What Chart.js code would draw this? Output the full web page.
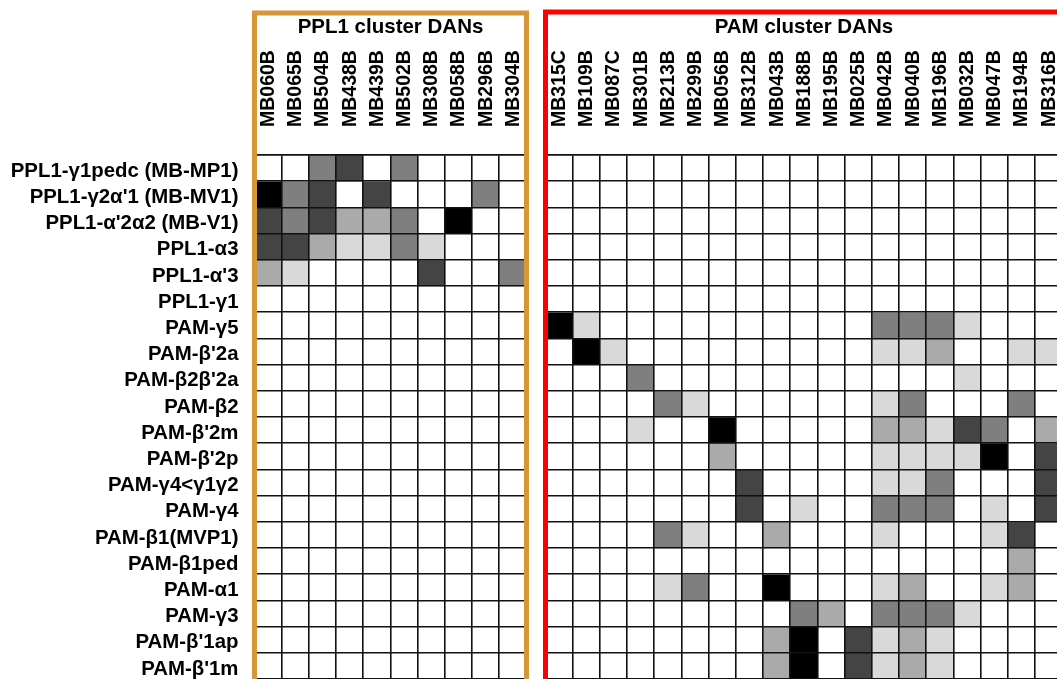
<!DOCTYPE html>
<html>
<head>
<meta charset="utf-8">
<script src="https://cdn.jsdelivr.net/npm/chart.js@4"></script>
<style>
    html, body { margin: 0; padding: 0; background: #fff; overflow: hidden; width: 1057px; height: 679px; }
    .box { position: absolute; top: 0; height: 682px; width: 530px; }
    #pplBox { left: 0; }
    #pamBox { left: 540px; }
</style>
</head>
<body>
<div class="box" id="pplBox"><canvas id="pplChart"></canvas></div>
<div class="box" id="pamBox"><canvas id="pamChart"></canvas></div>
<script>
// 行（神经元类型）
const rowNames = [
    'PPL1-γ1pedc (MB-MP1)', "PPL1-γ2α'1 (MB-MV1)", "PPL1-α'2α2 (MB-V1)", 'PPL1-α3', "PPL1-α'3",
    'PPL1-γ1', 'PAM-γ5', "PAM-β'2a", "PAM-β2β'2a", 'PAM-β2',
    "PAM-β'2m", "PAM-β'2p", 'PAM-γ4<γ1γ2', 'PAM-γ4', 'PAM-β1(MVP1)',
    'PAM-β1ped', 'PAM-α1', 'PAM-γ3', "PAM-β'1ap", "PAM-β'1m"
];

// 列（split-GAL4 品系）
const pplLines = ['MB060B', 'MB065B', 'MB504B', 'MB438B', 'MB439B', 'MB502B', 'MB308B', 'MB058B', 'MB296B', 'MB304B'];
const pamLines = ['MB315C', 'MB109B', 'MB087C', 'MB301B', 'MB213B', 'MB299B', 'MB056B', 'MB312B', 'MB043B', 'MB188B',
    'MB195B', 'MB025B', 'MB042B', 'MB040B', 'MB196B', 'MB032B', 'MB047B', 'MB194B', 'MB316B'];

// 表达强度 0-5（0 = 无, 5 = 最强）
const pplLevels = [
    [0, 0, 3, 4, 0, 3, 0, 0, 0, 0],
    [5, 3, 4, 0, 4, 0, 0, 0, 3, 0],
    [4, 3, 4, 2, 2, 3, 0, 5, 0, 0],
    [4, 4, 2, 1, 1, 3, 1, 0, 0, 0],
    [2, 1, 0, 0, 0, 0, 4, 0, 0, 3],
    [0, 0, 0, 0, 0, 0, 0, 0, 0, 0],
    [0, 0, 0, 0, 0, 0, 0, 0, 0, 0],
    [0, 0, 0, 0, 0, 0, 0, 0, 0, 0],
    [0, 0, 0, 0, 0, 0, 0, 0, 0, 0],
    [0, 0, 0, 0, 0, 0, 0, 0, 0, 0],
    [0, 0, 0, 0, 0, 0, 0, 0, 0, 0],
    [0, 0, 0, 0, 0, 0, 0, 0, 0, 0],
    [0, 0, 0, 0, 0, 0, 0, 0, 0, 0],
    [0, 0, 0, 0, 0, 0, 0, 0, 0, 0],
    [0, 0, 0, 0, 0, 0, 0, 0, 0, 0],
    [0, 0, 0, 0, 0, 0, 0, 0, 0, 0],
    [0, 0, 0, 0, 0, 0, 0, 0, 0, 0],
    [0, 0, 0, 0, 0, 0, 0, 0, 0, 0],
    [0, 0, 0, 0, 0, 0, 0, 0, 0, 0],
    [0, 0, 0, 0, 0, 0, 0, 0, 0, 0]
];

const pamLevels = [
    [0, 0, 0, 0, 0, 0, 0, 0, 0, 0, 0, 0, 0, 0, 0, 0, 0, 0, 0],
    [0, 0, 0, 0, 0, 0, 0, 0, 0, 0, 0, 0, 0, 0, 0, 0, 0, 0, 0],
    [0, 0, 0, 0, 0, 0, 0, 0, 0, 0, 0, 0, 0, 0, 0, 0, 0, 0, 0],
    [0, 0, 0, 0, 0, 0, 0, 0, 0, 0, 0, 0, 0, 0, 0, 0, 0, 0, 0],
    [0, 0, 0, 0, 0, 0, 0, 0, 0, 0, 0, 0, 0, 0, 0, 0, 0, 0, 0],
    [0, 0, 0, 0, 0, 0, 0, 0, 0, 0, 0, 0, 0, 0, 0, 0, 0, 0, 0],
    [5, 1, 0, 0, 0, 0, 0, 0, 0, 0, 0, 0, 3, 3, 3, 1, 0, 0, 0],
    [0, 5, 1, 0, 0, 0, 0, 0, 0, 0, 0, 0, 1, 1, 2, 0, 0, 1, 1],
    [0, 0, 0, 3, 0, 0, 0, 0, 0, 0, 0, 0, 0, 0, 0, 1, 0, 0, 0],
    [0, 0, 0, 0, 3, 1, 0, 0, 0, 0, 0, 0, 1, 3, 0, 0, 0, 3, 0],
    [0, 0, 0, 1, 0, 0, 5, 0, 0, 0, 0, 0, 2, 2, 1, 4, 3, 0, 2],
    [0, 0, 0, 0, 0, 0, 2, 0, 0, 0, 0, 0, 1, 1, 1, 1, 5, 0, 4],
    [0, 0, 0, 0, 0, 0, 0, 4, 0, 0, 0, 0, 1, 1, 3, 0, 0, 0, 4],
    [0, 0, 0, 0, 0, 0, 0, 4, 0, 1, 0, 0, 3, 3, 3, 0, 1, 0, 4],
    [0, 0, 0, 0, 3, 1, 0, 0, 2, 0, 0, 0, 1, 0, 0, 0, 1, 4, 0],
    [0, 0, 0, 0, 0, 0, 0, 0, 0, 0, 0, 0, 0, 0, 0, 0, 0, 2, 0],
    [0, 0, 0, 0, 1, 3, 0, 0, 5, 0, 0, 0, 1, 2, 0, 0, 1, 2, 0],
    [0, 0, 0, 0, 0, 0, 0, 0, 0, 3, 2, 0, 3, 3, 3, 1, 0, 0, 0],
    [0, 0, 0, 0, 0, 0, 0, 0, 2, 5, 0, 4, 1, 2, 1, 0, 0, 0, 0],
    [0, 0, 0, 0, 0, 0, 0, 0, 2, 5, 0, 4, 1, 2, 1, 0, 0, 0, 0]
];

const shades = ['#ffffff', '#d9d9d9', '#aaaaaa', '#7f7f7f', '#444444', '#000000'];
const FONT = "'Liberation Sans', Arial, sans-serif";
const lineColor = '#111';

// 外框
const boxPlugin = {
    id: 'clusterBox',
    afterDraw(chart, args, opts) {
        const { ctx, chartArea } = chart;
        ctx.save();
        ctx.strokeStyle = opts.color;
        ctx.lineWidth = 5;
        ctx.strokeRect(chartArea.left, opts.top, chartArea.right - chartArea.left, chart.height + 50);
        ctx.restore();
    }
};

function makeHeatmap(canvasId, lines, levels, title, boxColor, boxTop, showRows, padding) {
    return new Chart(document.getElementById(canvasId), {
        type: 'bar',
        data: {
            labels: lines,
            datasets: levels.map((row, i) => ({
                label: rowNames[i],
                data: row.map(() => 1),
                backgroundColor: row.map(v => shades[v]),
                borderWidth: 0,
                barPercentage: 1,
                categoryPercentage: 1,
                yAxisID: 'y'
            }))
        },
        options: {
            responsive: true,
            maintainAspectRatio: false,
            animation: false,
            layout: { padding: padding },
            plugins: {
                legend: { display: false },
                tooltip: { enabled: false },
                clusterBox: { color: boxColor, top: boxTop }
            },
            scales: {
                x: {
                    position: 'top',
                    stacked: true,
                    offset: true,
                    grid: { offset: true, drawTicks: false, color: lineColor, lineWidth: 1.6, z: 1 },
                    border: { color: lineColor, width: 1.6, z: 1 },
                    ticks: {
                        autoSkip: false, minRotation: 90, maxRotation: 90, padding: 28, labelOffset: 24,
                        color: '#000', font: { family: FONT, size: 19.5, weight: 'bold' }
                    },
                    title: {
                        display: true, text: title, color: '#000',
                        padding: { top: 14.7, bottom: 0 },
                        font: { family: FONT, size: 20.5, weight: 'bold' }
                    },
                    afterFit: s => {
                        s.height = 155 - padding.top;
                        s.paddingLeft = 0;
                        s.paddingRight = 0;
                    }
                },
                y: {
                    display: false,
                    stacked: true,
                    min: 0,
                    max: rowNames.length,
                    reverse: true
                },
                rows: {
                    type: 'category',
                    labels: rowNames,
                    position: 'left',
                    offset: true,
                    grid: { offset: true, drawTicks: false, color: lineColor, lineWidth: 1.6, z: 1 },
                    border: { color: lineColor, width: 1.6, z: 1 },
                    ticks: {
                        display: showRows, autoSkip: false, padding: 16, labelOffset: 3, color: '#000',
                        font: { family: FONT, size: 20.4, weight: 'bold' }
                    },
                    afterFit: s => {
                        s.width = showRows ? 254.5 - padding.left : 0;
                        s.paddingTop = 0;
                        s.paddingBottom = 0;
                    }
                }
            }
        },
        plugins: [boxPlugin]
    });
}

makeHeatmap('pplChart', pplLines, pplLevels, 'PPL1 cluster DANs', '#d8963a', 13, true,
    { left: 0, right: 3.5, top: 0, bottom: 3 });
makeHeatmap('pamChart', pamLines, pamLevels, 'PAM cluster DANs', '#ff0000', 12, false,
    { left: 5.5, right: 7.7, top: 0, bottom: 3 });
</script>
</body>
</html>
